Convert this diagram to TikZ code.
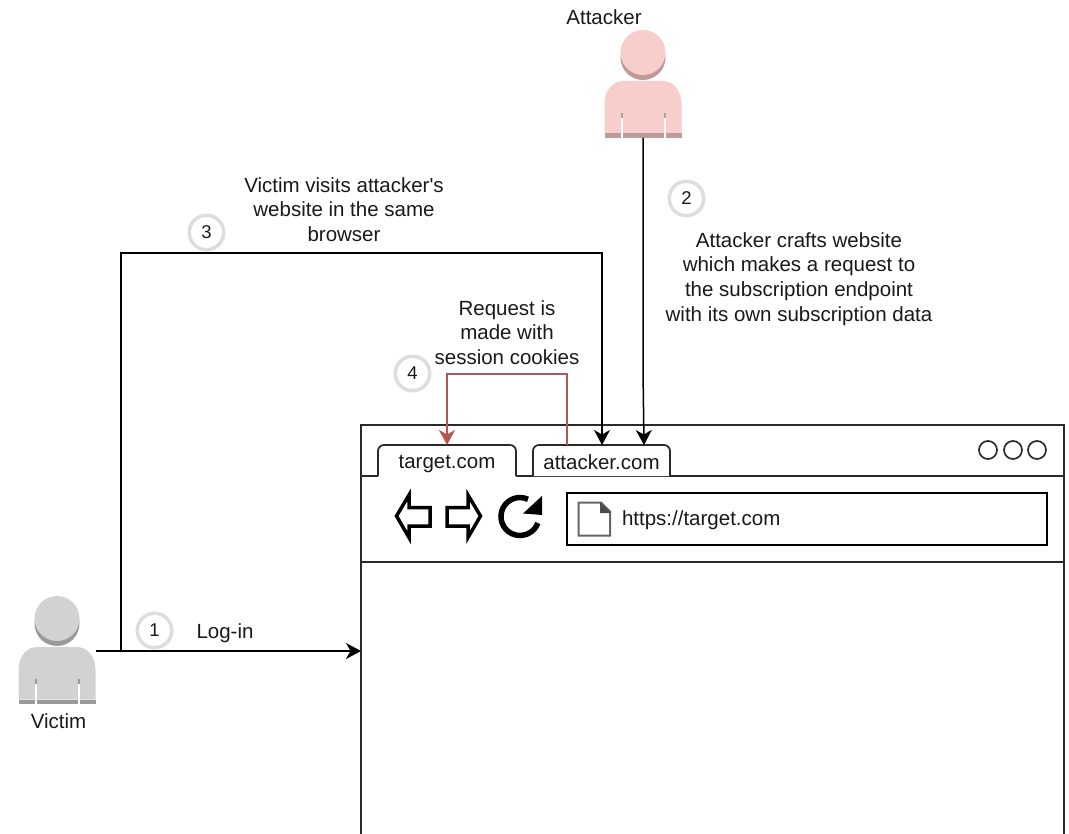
\documentclass[tikz,border=0pt]{standalone}
\usepackage{fontspec}
\setmainfont{Liberation Sans}
\newfontfamily\straightapos[Ligatures=ResetAll]{Liberation Sans}
\usetikzlibrary{arrows.meta}
\definecolor{redline}{HTML}{B85450}
\definecolor{stepring}{HTML}{DDDDDD}
\definecolor{frame}{HTML}{2A2A2A}
\tikzset{
  x=1pt,y=-1pt,
  every node/.style={font=\fontsize{20.5}{24.6}\selectfont,text=black!90,inner sep=0pt,outer sep=0pt},
  link/.style={line width=1.5pt,black,-{Stealth[length=15pt,width=16pt,inset=4.5pt]}},
  redlink/.style={line width=1.5pt,redline,-{Stealth[length=15pt,width=16pt,inset=4.5pt]}},
  plainframe/.style={line width=1.7pt,frame},
  steprg/.style={circle,draw=stepring,line width=3.5pt,fill=white,minimum size=34.5pt,font=\fontsize{18.5}{22}\selectfont},
  navicon/.style={line width=3.5pt,black,miter limit=10,fill=white},
  person/.pic={
    \fill[personshade] (0,27.5) circle[radius=22.5];
    \fill[personmain] (0,22.5) circle[radius=22.5];
    \fill[personmain] (-38.5,103.5) -- (-38.5,74) .. controls (-38.5,60) and (-30,51) .. (-20,51) -- (20,51) .. controls (30,51) and (38.5,60) .. (38.5,74) -- (38.5,103.5) -- cycle;
    \fill[personshade] (-38.5,103.5) rectangle (38.5,108);
    \fill[personshade] (-22.5,83) rectangle (-20.5,88);
    \fill[personshade] (21,83) rectangle (23,88);
    \fill[white] (-22.5,88) rectangle (-20.5,108);
    \fill[white] (21,88) rectangle (23,108);
  },
}
\begin{document}
\begin{tikzpicture}
\useasboundingbox (0,0) rectangle (1069,834);
% persons
\definecolor{personmain}{HTML}{F8CECC}\definecolor{personshade}{HTML}{BE9A99}
\pic at (643,30) {person};
\definecolor{personmain}{HTML}{D2D2D2}\definecolor{personshade}{HTML}{9A9A9A}
\pic at (57,596) {person};
\node (attackerlabel) at (604,17.5) {Attacker};
\node (victimlabel) at (58.5,721.5) {Victim};
\coordinate (attackerfoot) at (643,138);
\coordinate (victimhand) at (96,651);
\coordinate (fork) at (121,651);
% browser
\draw[plainframe] (361,834) -- (361,425) -- (1064,425) -- (1064,834);
\coordinate (browserleft) at (361,651);
\draw[plainframe] (361,476) -- (1064,476);
\draw[plainframe] (361,562) -- (1064,562);
\node[minimum width=138pt,minimum height=31pt] (tabt) at (447,460.5) {};
\node[minimum width=137pt,minimum height=31pt] (taba) at (602,460.5) {};
\fill[white] (378,477) -- (378,451) arc[start angle=180,end angle=270,radius=6] -- (510,445) arc[start angle=270,end angle=360,radius=6] -- (516,477) -- cycle;
\draw[plainframe] (378,476) -- (378,451) arc[start angle=180,end angle=270,radius=6] -- (510,445) arc[start angle=270,end angle=360,radius=6] -- (516,476);
\fill[white] (533,476) -- (533,451) arc[start angle=180,end angle=270,radius=6] -- (664,445) arc[start angle=270,end angle=360,radius=6] -- (670,476) -- cycle;
\draw[plainframe] (533,476) -- (533,451) arc[start angle=180,end angle=270,radius=6] -- (664,445) arc[start angle=270,end angle=360,radius=6] -- (670,476);
\node at (447,464) {target.com};
\node at (601.5,462.5) {attacker.com};
\foreach \cx in {988,1013,1037} \draw[line width=1.7pt,frame] (\cx,450) circle[radius=9];
% navigation
\draw[navicon] (396.5,516) -- (409,495) -- (409,507.5) -- (430,507.5) -- (430,526) -- (409,526) -- (409,537.5) -- cycle;
\draw[navicon] (480.5,516) -- (468,495) -- (468,507.5) -- (447,507.5) -- (447,526) -- (468,526) -- (468,537.5) -- cycle;
\draw[line width=5.5pt,black] (528,499.3) arc[start angle=-65,end angle=-340,radius=19];
\fill[black] (542,496) -- (523,513.5) -- (542,515) -- cycle;
% address bar
\draw[line width=2.2pt,black] (567,493) rectangle (1047,545);
\draw[line width=2pt,black!60,fill=white] (578.5,502.5) -- (601,502.5) -- (610,511.5) -- (610,535.5) -- (578.5,535.5) -- cycle;
\fill[black!70] (600,502) -- (611,513) -- (600,513) -- cycle;
\node[anchor=west] at (622,520) {https://target.com};
% connectors
\coordinate (tabaA) at (taba.north);
\coordinate (tabaR) at (644,445);
\coordinate (tabaL) at (567,445);
\draw[link] (attackerfoot) -- (643,370) -- (tabaR);
\draw[link] (victimhand) -- (browserleft);
\draw[link] (fork) -- (121,253) -- (tabaA |- 0,253) -- (tabaA);
\draw[redlink] (tabaL) -- (567,374) -- (tabt.north |- 0,374) -- (tabt.north);
% steps
\node[steprg] (s1) at (154.5,630.5) {1};
\node[steprg] (s2) at (686.5,198.5) {2};
\node[steprg] (s3) at (206.5,232.5) {3};
\node[steprg] (s4) at (412.5,373.5) {4};
% labels
\node (login) at (225,633) {Log-in};
\node[align=center] (l3) at (344,209.5) {Victim visits attacker{\straightapos'}s\\website in the same\\browser};
\node[align=center] (l2) at (799,279) {Attacker crafts website\\which makes a request to\\the subscription endpoint\\with its own subscription data};
\node[align=center] (l4) at (507,332.5) {Request is\\made with\\session cookies};
\end{tikzpicture}
\end{document}
